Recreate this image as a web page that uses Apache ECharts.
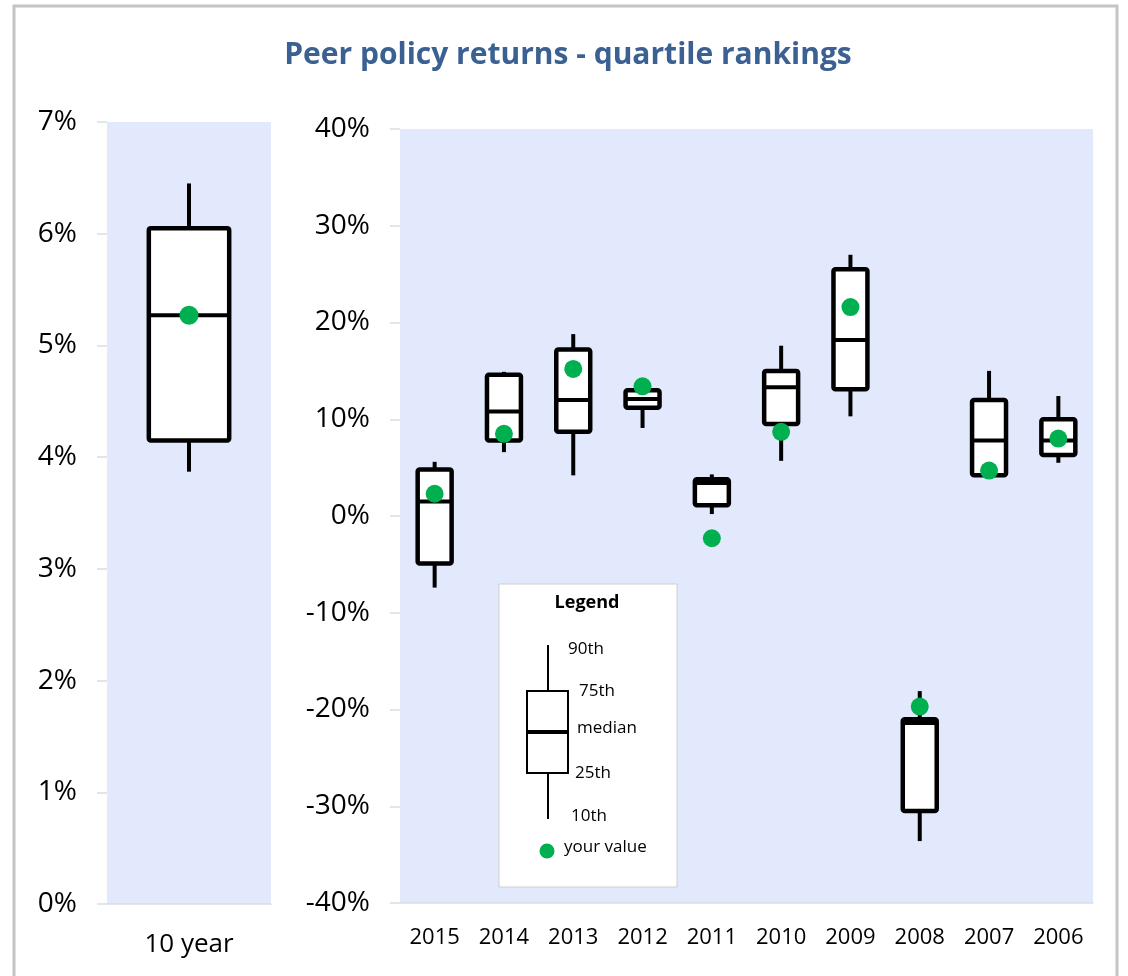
<!DOCTYPE html>
<html>
<head>
<meta charset="utf-8">
<script src="https://cdn.jsdelivr.net/npm/echarts@6/dist/echarts.min.js"></script>
<style>
  html, body { margin: 0; padding: 0; background: #fff; }
  #chart { width: 1128px; height: 976px; }
</style>
</head>
<body>
<div id="chart"></div>
<script>
// 10 year summary (left panel)
var longLabel = ['10 year'];
var longP10 = [3.87];
var longP25 = [4.15];
var longMedian = [5.27];
var longP75 = [6.05];
var longP90 = [6.45];
var longYours = [5.27];

// yearly returns (right panel)
var years = ['2015', '2014', '2013', '2012', '2011', '2010', '2009', '2008', '2007', '2006'];
var p10 = [-7.4, 6.6, 4.2, 9.1, 0.2, 5.7, 10.3, -33.6, 4.2, 5.5];
var p25 = [-4.9, 7.8, 8.7, 11.2, 1.1, 9.5, 13.1, -30.5, 4.2, 6.3];
var median = [1.5, 10.8, 12.0, 12.1, 3.4, 13.3, 18.2, -21.4, 7.8, 7.8];
var p75 = [4.8, 14.6, 17.2, 13.0, 3.8, 15.0, 25.5, -21.0, 12.0, 10.0];
var p90 = [5.6, 14.9, 18.8, 13.2, 4.3, 17.6, 27.0, -18.1, 15.0, 12.4];
var yours = [2.3, 8.5, 15.2, 13.4, -2.3, 8.7, 21.6, -19.7, 4.7, 8.0];

var leftTicks = { min: 0, max: 7, interval: 1 };
var rightTicks = { min: -40, max: 40, interval: 10 };

function boxRows(a, b, c, d, e) {
  return a.map(function (v, i) { return [i, a[i], b[i], c[i], d[i], e[i]]; });
}
function dotRows(v) {
  return v.map(function (x, i) { return [i, x]; });
}

// box without end caps, like the excel chart
function renderBox(params, api) {
  var x = api.value(0);
  var lo = api.coord([x, api.value(1)]);
  var q1 = api.coord([x, api.value(2)]);
  var md = api.coord([x, api.value(3)]);
  var q3 = api.coord([x, api.value(4)]);
  var hi = api.coord([x, api.value(5)]);
  var w = api.size([1, 0])[0] * 0.49;
  var cx = q3[0];
  var line = { stroke: '#000', lineWidth: 4 };
  return {
    type: 'group',
    children: [
      { type: 'line', shape: { x1: cx, y1: hi[1], x2: cx, y2: q3[1] }, style: line },
      { type: 'line', shape: { x1: cx, y1: q1[1], x2: cx, y2: lo[1] }, style: line },
      { type: 'rect', shape: { x: cx - w / 2, y: q3[1], width: w, height: q1[1] - q3[1], r: 2 },
        style: { fill: '#fff', stroke: '#000', lineWidth: 4.5 } },
      { type: 'line', shape: { x1: cx - w / 2, y1: md[1], x2: cx + w / 2, y2: md[1] }, style: line }
    ]
  };
}

var labelFont = 'Open Sans';
var faint = '#d9dde6';

function yAxisOf(ticks, gridIndex) {
  return {
    type: 'value', gridIndex: gridIndex,
    min: ticks.min, max: ticks.max, interval: ticks.interval,
    axisLine: { show: false },
    axisTick: { show: true, length: 10, lineStyle: { color: faint, width: 1.5 } },
    splitLine: { show: false },
    axisLabel: { margin: 30, color: '#000', fontSize: 28, fontFamily: labelFont,
      formatter: function (v) { return v + '%'; } }
  };
}

var legendTxt = { fill: '#000', fontSize: 17, fontFamily: labelFont, verticalAlign: 'middle' };
function legendLabel(x, y, t) {
  return { type: 'text', x: x, y: y, style: Object.assign({ text: t }, legendTxt) };
}

var chart = echarts.init(document.getElementById('chart'));
var option = {
  animation: false,
  grid: [
    { left: 107, top: 122, width: 164, height: 782, show: true, backgroundColor: '#E2E9FC', borderWidth: 0 },
    { left: 400, top: 129, width: 693, height: 774, show: true, backgroundColor: '#E2E9FC', borderWidth: 0 }
  ],
  xAxis: [
    { type: 'category', gridIndex: 0, data: longLabel,
      axisLine: { onZero: false, lineStyle: { color: faint, width: 1.5 } },
      axisTick: { length: 8, lineStyle: { color: faint, width: 1.5 } },
      axisLabel: { margin: 28, color: '#000', fontSize: 26, fontFamily: labelFont } },
    { type: 'category', gridIndex: 1, data: years,
      axisLine: { onZero: false, lineStyle: { color: faint, width: 1.5 } },
      axisTick: { length: 8, lineStyle: { color: faint, width: 1.5 } },
      axisLabel: { margin: 24, color: '#000', fontSize: 22, fontFamily: labelFont } }
  ],
  yAxis: [yAxisOf(leftTicks, 0), yAxisOf(rightTicks, 1)],
  series: [
    { type: 'custom', xAxisIndex: 0, yAxisIndex: 0, renderItem: renderBox,
      encode: { x: 0, y: [1, 2, 3, 4, 5] },
      data: boxRows(longP10, longP25, longMedian, longP75, longP90) },
    { type: 'scatter', xAxisIndex: 0, yAxisIndex: 0, symbolSize: 19, z: 5,
      itemStyle: { color: '#00B050', opacity: 1 }, data: dotRows(longYours) },
    { type: 'custom', xAxisIndex: 1, yAxisIndex: 1, renderItem: renderBox,
      encode: { x: 0, y: [1, 2, 3, 4, 5] },
      data: boxRows(p10, p25, median, p75, p90) },
    { type: 'scatter', xAxisIndex: 1, yAxisIndex: 1, symbolSize: 18, z: 5,
      itemStyle: { color: '#00B050', opacity: 1 }, data: dotRows(yours) }
  ],
  graphic: [
    // outer frame
    { type: 'rect', shape: { x: 14, y: 6, width: 1103, height: 990 }, silent: true,
      style: { fill: 'none', stroke: '#c4c4c4', lineWidth: 3 }, z: -10 },
    { type: 'text', x: 568, y: 55,
      style: { text: 'Peer policy returns - quartile rankings', fill: '#3B6092', fontSize: 30,
        fontWeight: 'bold', fontFamily: labelFont, align: 'center', verticalAlign: 'middle' } },
    // legend panel
    { type: 'group', z: 20, children: [
      { type: 'rect', shape: { x: 499, y: 584, width: 178, height: 303 },
        style: { fill: '#fff', stroke: '#cfcfcf', lineWidth: 1 } },
      { type: 'text', x: 587, y: 603,
        style: { text: 'Legend', fill: '#000', fontSize: 18, fontWeight: 'bold', fontFamily: labelFont,
          align: 'center', verticalAlign: 'middle' } },
      { type: 'line', shape: { x1: 548, y1: 645, x2: 548, y2: 691 }, style: { stroke: '#000', lineWidth: 2 } },
      { type: 'line', shape: { x1: 548, y1: 773, x2: 548, y2: 819 }, style: { stroke: '#000', lineWidth: 2 } },
      { type: 'rect', shape: { x: 527, y: 691, width: 41, height: 82 },
        style: { fill: '#fff', stroke: '#000', lineWidth: 2 } },
      { type: 'line', shape: { x1: 526, y1: 732, x2: 569, y2: 732 }, style: { stroke: '#000', lineWidth: 4 } },
      legendLabel(568, 649, '90th'),
      legendLabel(579, 691, '75th'),
      legendLabel(577, 728, 'median'),
      legendLabel(575, 773, '25th'),
      legendLabel(571, 816, '10th'),
      { type: 'circle', shape: { cx: 547, cy: 851, r: 7.5 }, style: { fill: '#00B050' } },
      legendLabel(564, 847, 'your value')
    ] }
  ]
};
chart.setOption(option);
</script>
</body>
</html>
